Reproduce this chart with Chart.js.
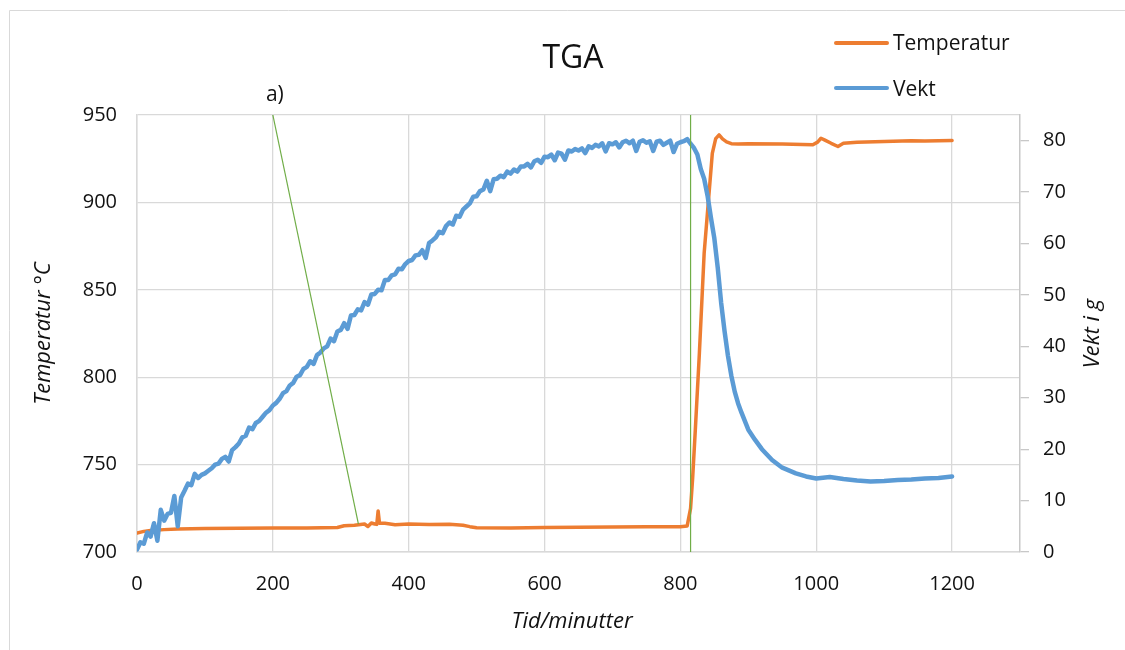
<!DOCTYPE html>
<html lang="no">
<head>
<meta charset="utf-8">
<title>TGA</title>
<script src="https://cdn.jsdelivr.net/npm/chart.js@4.4.1/dist/chart.umd.min.js"></script>
<style>
  html, body { margin: 0; padding: 0; background: #fff; }
  #wrap { width: 1125px; height: 650px; position: relative; }
</style>
</head>
<body>
<div id="wrap"><canvas id="tga"></canvas></div>
<script>
// Texts
const tittel = 'TGA';
const xTittel = 'Tid/minutter';
const yTittel = 'Temperatur °C';
const y2Tittel = 'Vekt i g';
const markorTekst = 'a)';

// Vekt (g), logged about every 5 minutes
const vektTid = [
  0, 5, 10, 15, 20, 25, 30, 35, 40, 45,
  50, 55, 60, 65, 70, 75, 80, 85, 90, 95,
  100, 105, 110, 115, 120, 125, 130, 135, 140, 145,
  150, 155, 160, 165, 170, 175, 180, 185, 190, 195,
  200, 205, 210, 215, 220, 225, 230, 235, 240, 245,
  250, 255, 260, 265, 270, 275, 280, 285, 290, 295,
  300, 305, 310, 315, 320, 325, 330, 335, 340, 345,
  350, 355, 360, 365, 370, 375, 380, 385, 390, 395,
  400, 405, 410, 415, 420, 425, 430, 435, 440, 445,
  450, 455, 460, 465, 470, 475, 480, 485, 490, 495,
  500, 505, 510, 515, 520, 525, 530, 535, 540, 545,
  550, 555, 560, 565, 570, 575, 580, 585, 590, 595,
  600, 605, 610, 615, 620, 625, 630, 635, 640, 645,
  650, 655, 660, 665, 670, 675, 680, 685, 690, 695,
  700, 705, 710, 715, 720, 725, 730, 735, 740, 745,
  750, 755, 760, 765, 770, 775, 780, 785, 790, 795,
  800, 805, 810, 815, 820, 825, 830, 835, 840, 845,
  850, 855, 860, 865, 870, 875, 880, 885, 890, 900,
  910, 920, 935, 950, 970, 985, 1000, 1020, 1040, 1060,
  1080, 1100, 1120, 1140, 1160, 1180, 1200
];
const vektGram = [
  0.5, 1.9, 1.6, 3.8, 3.0, 5.6, 2.2, 8.2, 6.1, 7.4,
  7.6, 10.9, 5.0, 10.6, 11.9, 13.3, 13.0, 15.2, 14.4, 15.0,
  15.3, 15.8, 16.3, 17.0, 17.2, 18.1, 18.5, 17.6, 19.8, 20.4,
  21.1, 22.3, 22.6, 24.2, 23.9, 25.1, 25.5, 26.3, 27.1, 27.6,
  28.5, 29.0, 29.8, 30.9, 31.3, 32.4, 32.9, 34.1, 34.4, 35.6,
  36.0, 37.1, 36.6, 38.3, 38.8, 39.6, 40.0, 41.5, 41.0, 42.9,
  43.2, 44.5, 43.4, 46.0, 46.1, 47.2, 47.0, 48.6, 48.1, 50.1,
  50.2, 51.0, 50.9, 52.9, 52.9, 53.8, 54.0, 55.1, 55.0, 56.0,
  56.6, 56.8, 57.7, 57.8, 58.7, 57.2, 60.1, 60.6, 61.2, 62.3,
  62.0, 63.4, 64.1, 63.7, 65.4, 65.2, 66.6, 67.2, 67.8, 69.1,
  69.2, 70.2, 70.5, 72.2, 70.2, 72.5, 72.6, 73.2, 72.9, 74.0,
  73.6, 74.4, 74.0, 75.0, 75.0, 75.5, 74.8, 76.0, 76.3, 75.7,
  76.9, 76.8, 77.3, 76.2, 77.7, 77.5, 76.3, 78.1, 77.9, 78.4,
  78.1, 78.5, 77.6, 78.9, 78.6, 79.2, 78.9, 79.5, 77.9, 79.5,
  79.3, 79.7, 78.7, 79.7, 80.0, 79.5, 80.0, 78.0, 79.8, 80.1,
  79.6, 79.9, 78.0, 79.8, 80.0, 79.2, 79.6, 80.0, 77.8, 79.4,
  79.7, 79.9, 80.3, 79.4, 78.6, 77.3, 74.5, 72.6, 69.3, 65.0,
  61.0, 55.3, 48.5, 43.0, 38.2, 34.3, 31.2, 28.9, 27.1, 23.8,
  21.8, 20.0, 17.9, 16.4, 15.3, 14.7, 14.3, 14.6, 14.2, 13.9,
  13.7, 13.8, 14.0, 14.1, 14.3, 14.4, 14.7
];

// Temperatur (°C)
const tempTid = [
  0, 10, 20, 40, 60, 100, 150, 200, 250, 295,
  305, 320, 335, 340, 345, 350, 353, 355, 357, 365,
  380, 400, 430, 460, 480, 490, 500, 550, 600, 650,
  700, 750, 800, 810, 815, 818, 822, 828, 835, 843,
  847, 852, 857, 862, 868, 875, 885, 900, 950, 995,
  1002, 1007, 1012, 1022, 1032, 1040, 1060, 1100, 1140, 1160,
  1180, 1200
];
const tempGrader = [
  710.8, 711.8, 712.3, 712.8, 713.2, 713.5, 713.6, 713.7, 713.8, 714.0,
  715.0, 715.3, 716.0, 714.6, 716.6, 716.0, 715.8, 723.5, 716.5, 716.4,
  715.6, 716.0, 715.7, 715.9, 715.3, 714.5, 713.9, 713.8, 714.0, 714.2,
  714.3, 714.4, 714.5, 714.9, 725.0, 742.0, 770.0, 814.0, 871.0, 909.0,
  928.0, 936.5, 938.6, 936.3, 934.6, 933.6, 933.4, 933.6, 933.4, 933.0,
  934.5, 936.7, 935.8, 933.8, 932.0, 933.8, 934.4, 934.8, 935.3, 935.1,
  935.2, 935.4
];

// Green marker lines (temperature axis)
const markorA = { x: [200, 326], y: [950, 716] };
const markorB = { x: [815, 815], y: [700, 950] };

const farger = { temp: '#ED7D31', vekt: '#5B9BD5', markor: '#70AD47', grid: '#d9d9d9', tekst: '#111' };
const FONT = '"Open Sans", "Noto Sans", sans-serif';

const tilPunkter = (xs, ys) => xs.map((x, i) => ({ x, y: ys[i] }));

// titles, legend, frame and the "a)" label
const pynt = {
  id: 'pynt',
  beforeDraw(chart) {
    const ctx = chart.ctx;
    ctx.save();
    ctx.strokeStyle = farger.grid;
    ctx.lineWidth = 1;
    ctx.beginPath();
    ctx.moveTo(9.5, 650);
    ctx.lineTo(9.5, 10.5);
    ctx.lineTo(1125, 10.5);
    ctx.stroke();
    ctx.restore();
  },
  afterDraw(chart) {
    const { ctx, chartArea: a, scales } = chart;
    const midY = (a.top + a.bottom) / 2;
    ctx.save();
    ctx.fillStyle = farger.tekst;
    ctx.textAlign = 'center';
    ctx.textBaseline = 'alphabetic';

    ctx.font = `32px ${FONT}`;
    ctx.fillText(tittel, 573, 68);

    ctx.font = `21px ${FONT}`;
    ctx.fillText(markorTekst, scales.x.getPixelForValue(markorA.x[0]) + 2, 101);

    ctx.font = `italic 22px ${FONT}`;
    ctx.fillText(xTittel, 572, 628);

    ctx.textBaseline = 'middle';
    [[44, yTittel], [1093, y2Tittel]].forEach(([x, txt]) => {
      ctx.save();
      ctx.translate(x, midY);
      ctx.rotate(-Math.PI / 2);
      ctx.fillText(txt, 0, 0);
      ctx.restore();
    });

    // legend: Temperatur first, then Vekt
    ctx.textAlign = 'left';
    ctx.textBaseline = 'alphabetic';
    ctx.font = `21px ${FONT}`;
    const rader = [['Temperatur', 43, 50], ['Vekt', 88, 96]];
    rader.forEach(([label, ly, base]) => {
      const ds = chart.data.datasets.find(d => d.label === label);
      ctx.strokeStyle = ds.borderColor;
      ctx.lineWidth = 4;
      ctx.lineCap = 'round';
      ctx.beginPath();
      ctx.moveTo(836, ly);
      ctx.lineTo(887, ly);
      ctx.stroke();
      ctx.fillText(label, 893, base);
    });
    ctx.restore();
  }
};

const tickFont = { family: FONT, size: 20 };

new Chart(document.getElementById('tga'), {
  type: 'line',
  data: {
    datasets: [
      {
        label: 'markør a', data: tilPunkter(markorA.x, markorA.y), yAxisID: 'y',
        borderColor: farger.markor, borderWidth: 1.2, pointRadius: 0, order: 0
      },
      {
        label: 'markør b', data: tilPunkter(markorB.x, markorB.y), yAxisID: 'y',
        borderColor: farger.markor, borderWidth: 1.2, pointRadius: 0, order: 0
      },
      {
        label: 'Vekt', data: tilPunkter(vektTid, vektGram), yAxisID: 'y2',
        borderColor: farger.vekt, borderWidth: 4.5, pointRadius: 0, order: 1,
        borderJoinStyle: 'round', borderCapStyle: 'round'
      },
      {
        label: 'Temperatur', data: tilPunkter(tempTid, tempGrader), yAxisID: 'y',
        borderColor: farger.temp, borderWidth: 3.5, pointRadius: 0, order: 2,
        borderJoinStyle: 'round', borderCapStyle: 'round'
      }
    ]
  },
  options: {
    responsive: true,
    maintainAspectRatio: false,
    animation: false,
    layout: { padding: { top: 115, left: 0, right: 0, bottom: 0 } },
    plugins: { legend: { display: false }, tooltip: { enabled: false }, title: { display: false } },
    scales: {
      x: {
        type: 'linear', min: 0, max: 1300,
        afterFit: s => { s.height = 98; },
        grid: { color: farger.grid, lineWidth: 1.3, drawTicks: false },
        border: { color: farger.grid, width: 1.5 },
        ticks: {
          stepSize: 200, includeBounds: false, padding: 20, color: farger.tekst, font: tickFont,
          format: { useGrouping: false }
        }
      },
      y: {
        position: 'left', min: 700, max: 950,
        afterFit: s => { s.width = 137; },
        grid: { color: farger.grid, lineWidth: 1.3, drawTicks: false },
        border: { color: farger.grid, width: 1.5 },
        ticks: { stepSize: 50, padding: 20, color: farger.tekst, font: tickFont }
      },
      y2: {
        position: 'right', min: 0, max: 85,
        afterFit: s => { s.width = 105; },
        grid: { drawOnChartArea: false, drawTicks: true, tickLength: 9, color: '#c8c8c8', lineWidth: 1.3 },
        border: { color: '#c8c8c8', width: 1.5 },
        ticks: { stepSize: 10, includeBounds: false, padding: 14, color: farger.tekst, font: tickFont }
      }
    }
  },
  plugins: [pynt]
});
</script>
</body>
</html>
